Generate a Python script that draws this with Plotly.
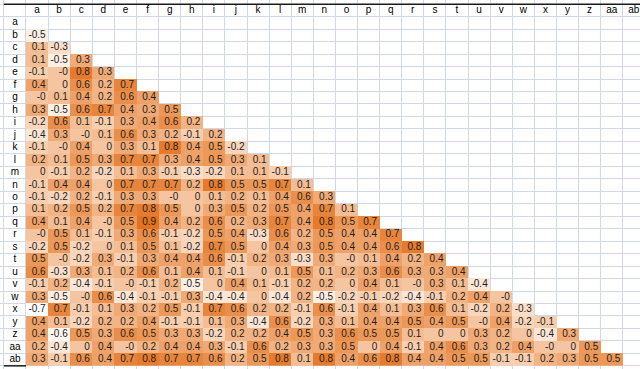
import plotly.graph_objects as go

labels = ['a', 'b', 'c', 'd', 'e', 'f', 'g', 'h', 'i', 'j', 'k', 'l', 'm', 'n',
          'o', 'p', 'q', 'r', 's', 't', 'u', 'v', 'w', 'x', 'y', 'z', 'aa', 'ab']

# lower-triangle correlations, one list per row (columns a, b, c, ...)
corr_a = []
corr_b = [-0.5]
corr_c = [0.1, -0.3]
corr_d = [0.1, -0.5, 0.3]
corr_e = [-0.1, -0.0, 0.8, 0.3]
corr_f = [0.4, 0, 0.6, 0.2, 0.7]
corr_g = [-0.0, 0.1, 0.4, 0.2, 0.6, 0.4]
corr_h = [0.3, -0.5, 0.6, 0.7, 0.4, 0.3, 0.5]
corr_i = [-0.2, 0.6, 0.1, -0.1, 0.3, 0.4, 0.6, 0.2]
corr_j = [-0.4, 0.3, -0.0, 0.1, 0.6, 0.3, 0.2, -0.1, 0.2]
corr_k = [-0.1, -0.0, 0.4, 0, 0.3, 0.1, 0.8, 0.4, 0.5, -0.2]
corr_l = [0.2, 0.1, 0.5, 0.3, 0.7, 0.7, 0.3, 0.4, 0.5, 0.3, 0.1]
corr_m = [0, -0.1, 0.2, -0.2, 0.1, 0.3, -0.1, -0.3, -0.2, 0.1, 0.1, -0.1]
corr_n = [-0.1, 0.4, 0.4, 0, 0.7, 0.7, 0.7, 0.2, 0.8, 0.5, 0.5, 0.7, 0.1]
corr_o = [-0.1, -0.2, 0.2, -0.1, 0.3, 0.3, -0.0, 0, 0.1, 0.2, 0.1, 0.4, 0.6, 0.3]
corr_p = [0.1, 0.2, 0.5, 0.2, 0.7, 0.8, 0.5, 0, 0.3, 0.5, 0.2, 0.5, 0.4, 0.7, 0.1]
corr_q = [0.4, 0.1, 0.4, -0.0, 0.5, 0.9, 0.4, 0.2, 0.6, 0.2, 0.3, 0.7, 0.4, 0.8, 0.5, 0.7]
corr_r = [-0.0, 0.5, 0.1, -0.1, 0.3, 0.6, -0.1, -0.2, 0.5, 0.4, -0.3, 0.6, 0.2, 0.5, 0.4, 0.4, 0.7]
corr_s = [-0.2, 0.5, -0.2, 0, 0.1, 0.5, 0.1, -0.2, 0.7, 0.5, 0, 0.4, 0.3, 0.5, 0.4, 0.4, 0.6, 0.8]
corr_t = [0.5, -0.0, -0.2, 0.3, -0.1, 0.3, 0.4, 0.4, 0.6, -0.1, 0.2, 0.3, -0.3, 0.3, -0.0, 0.1,
          0.4, 0.2, 0.4]
corr_u = [0.6, -0.3, 0.3, 0.1, 0.2, 0.6, 0.1, 0.4, 0.1, -0.1, 0, 0.1, 0.5, 0.1, 0.2, 0.3,
          0.6, 0.3, 0.3, 0.4]
corr_v = [-0.1, 0.2, -0.4, -0.1, -0.0, -0.1, 0.2, -0.5, 0, 0.4, 0.1, -0.1, 0.2, 0.2, 0, 0.4,
          0.1, -0.0, 0.3, 0.1, -0.4]
corr_w = [0.3, -0.5, -0.0, 0.6, -0.4, -0.1, -0.1, 0.3, -0.4, -0.4, 0, -0.4, 0.2, -0.5, -0.2,
          -0.1, -0.2, -0.4, -0.1, 0.2, 0.4, -0.0]
corr_x = [-0.7, 0.7, -0.1, 0.1, 0.3, 0.2, 0.5, -0.1, 0.7, 0.6, 0.2, 0.2, -0.1, 0.6, -0.1,
          0.4, 0.1, 0.3, 0.6, 0.1, -0.2, 0.2, -0.3]
corr_y = [0.4, 0.1, -0.2, 0.2, 0.2, 0.4, -0.1, -0.1, 0.1, 0.3, -0.4, 0.6, -0.2, 0.3, 0.1,
          0.4, 0.4, 0.5, 0.4, 0.5, -0.0, 0.4, -0.2, -0.1]
corr_z = [0.4, -0.6, 0.5, 0.3, 0.6, 0.5, 0.3, 0.3, -0.2, 0.2, 0.2, 0.4, 0.5, 0.3, 0.6,
          0.5, 0.5, 0.1, 0, 0, 0.3, 0.2, 0, -0.4, 0.3]
corr_aa = [0.2, -0.4, 0, 0.4, -0.0, 0.2, 0.4, 0.4, 0.3, -0.1, 0.6, 0.2, 0.3, 0.3, 0.5,
           0, 0.4, -0.1, 0.4, 0.6, 0.3, 0.2, 0.4, -0.0, 0, 0.5]
corr_ab = [0.3, -0.1, 0.6, 0.4, 0.7, 0.8, 0.7, 0.7, 0.6, 0.2, 0.5, 0.8, 0.1, 0.8, 0.4,
           0.6, 0.8, 0.4, 0.4, 0.5, 0.5, -0.1, -0.1, 0.2, 0.3, 0.5, 0.5]

rows = [corr_a, corr_b, corr_c, corr_d, corr_e, corr_f, corr_g, corr_h, corr_i, corr_j,
        corr_k, corr_l, corr_m, corr_n, corr_o, corr_p, corr_q, corr_r, corr_s, corr_t,
        corr_u, corr_v, corr_w, corr_x, corr_y, corr_z, corr_aa, corr_ab]

n = len(labels)
z = [[(r[j] if j < len(r) else None) for j in range(n)] for r in rows]

FONT = "Liberation Sans, Arial, sans-serif"
GRID = "#d0d7e5"

fig = go.Figure()
fig.add_trace(go.Heatmap(
    z=z, x=list(range(n)), y=list(range(n)),
    colorscale=[[0, "#ffffff"], [0.5, "#f4bd93"], [1, "#e4721f"]],
    zmin=-0.7, zmax=0.9, showscale=False, hoverinfo="skip",
))

# cell values, right-aligned in each cell
tx, ty, tt = [], [], []
for i, r in enumerate(rows):
    for j, v in enumerate(r):
        tx.append(j + 0.39)
        ty.append(i)
        tt.append(format(v, "g"))
fig.add_trace(go.Scatter(
    x=tx, y=ty, text=tt, mode="text", textposition="middle left",
    textfont=dict(family=FONT, size=10, color="#1e1e1e"),
    hoverinfo="skip", showlegend=False, cliponaxis=False,
))

# header row and row-label column
fig.add_trace(go.Scatter(
    x=list(range(n)) + [-1] * n, y=[-1] * n + list(range(n)),
    text=labels + labels, mode="text", textposition="middle center",
    textfont=dict(family=FONT, size=10, color="#000000"),
    hoverinfo="skip", showlegend=False, cliponaxis=False,
))

grid_vals = [k - 0.5 for k in range(-1, n + 2)]
fig.update_xaxes(range=[-1.676, 27.28], tickvals=grid_vals, showticklabels=False,
                 showgrid=True, gridcolor=GRID, gridwidth=1, zeroline=False, ticks="")
fig.update_yaxes(range=[27.754, -1.837], tickvals=grid_vals, showticklabels=False,
                 showgrid=True, gridcolor=GRID, gridwidth=1, zeroline=False, ticks="")

fig.add_shape(type="line", x0=-1.5, x1=28.5, y0=-1.5, y1=-1.5,
              line=dict(color="#1a1a1a", width=1.5), layer="above")
fig.add_shape(type="line", x0=-1.5, x1=-0.5, y0=27.5, y1=27.5,
              line=dict(color="#1a1a1a", width=1.5), layer="above")

fig.update_layout(width=640, height=369, margin=dict(l=0, r=0, t=0, b=0),
                  paper_bgcolor="white", plot_bgcolor="white", showlegend=False)

fig.write_html("out.html", config={"displayModeBar": False, "staticPlot": True},
               post_script="document.body.style.margin='0px';"
                           "document.body.style.padding='0px';"
                           "document.body.style.overflow='hidden';")
